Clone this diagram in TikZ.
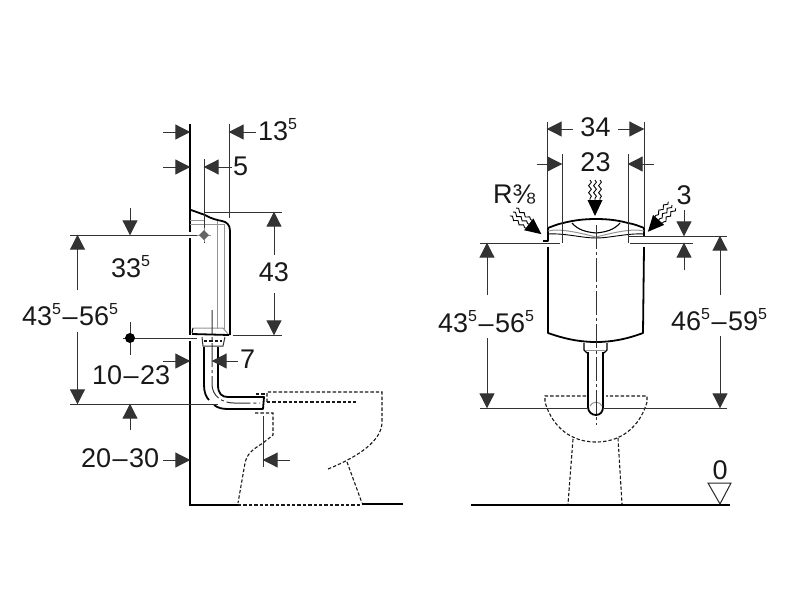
\documentclass[tikz,border=0pt]{standalone}
\usepackage{fontspec}
\setmainfont{Liberation Sans}
\usetikzlibrary{arrows.meta,decorations.pathmorphing}
\newcommand{\supfive}{\raisebox{0.40em}{\fontsize{16}{16}\selectfont 5}}
\newcommand{\dsh}{\kern1.5pt–\kern1.5pt}
\definecolor{dimc}{gray}{0.2}
\definecolor{lightg}{gray}{0.58}
\tikzset{
  x=1pt,y=-1pt,
  lbl/.style={font=\fontsize{27}{27}\selectfont,inner sep=0pt,text=black!90},
  dimline/.style={draw=dimc,line width=1pt},
  dimarrow/.style={dimline,-{Triangle[length=15pt,width=15pt]},shorten >=-0.3pt},
  body/.style={draw=black,line width=1.8pt,line join=round},
  heavy/.style={draw=black,line width=2.6pt},
  thing/.style={draw=lightg,line width=1pt},
  hidden/.style={draw=black!90,line width=1.1pt,dash pattern=on 3.4pt off 2pt},
  centre/.style={draw=dimc,line width=1pt,dash pattern=on 24pt off 3pt on 3pt off 3pt},
  squiggle/.pic={
    \foreach \o in {-5,0,5}{
      \draw[black,line width=0.9pt,decorate,decoration={snake,amplitude=1.4pt,segment length=7pt}] (\o,0) -- (\o,20);
    }
    \fill[black] (-7.5,20) -- (7.5,20) -- (0,36) -- cycle;
  }
}
\begin{document}
\begin{tikzpicture}
\useasboundingbox[fill=white] (0,0) rectangle (800,600);

% ---- named points: left view
\coordinate (wallTop) at (190,124);
\coordinate (wallFoot) at (190,505);
\coordinate (floorEndL) at (403,504);
\coordinate (a135L) at (163,132);   \coordinate (a135Lt) at (190,132);
\coordinate (a135R) at (256,132);   \coordinate (a135Rt) at (229,132);
\coordinate (a5L) at (163,167);     \coordinate (a5Lt) at (190,167);
\coordinate (a5R) at (232,167);     \coordinate (a5Rt) at (204,167);
\coordinate (ext229a) at (229,124); \coordinate (ext229b) at (229,218);
\coordinate (ext204a) at (204,159); \coordinate (ext204b) at (204,243);
\coordinate (top43a) at (204,212);  \coordinate (top43b) at (282,212);
\coordinate (bot43a) at (233,335);  \coordinate (bot43b) at (282,335);
\coordinate (a43ts) at (274,255);   \coordinate (a43tt) at (274,212);
\coordinate (a43bs) at (274,293);   \coordinate (a43bt) at (274,335);
\coordinate (line235a) at (70,235); \coordinate (line235b) at (197,235);
\coordinate (a33s) at (130,208);    \coordinate (a33t) at (130,235);
\coordinate (dotV1) at (130,322);   \coordinate (dotV2) at (130,355);
\coordinate (dot) at (130,338);
\coordinate (dotH1) at (123,338);   \coordinate (dotH2) at (197,338);
\coordinate (a43Ls) at (77.5,290);  \coordinate (a43Lt) at (77.5,235);
\coordinate (a56Ls) at (77.5,332);  \coordinate (a56Lt) at (77.5,404);
\coordinate (line404a) at (70,404); \coordinate (line404b) at (218,404);
\coordinate (a130s) at (130,430);   \coordinate (a130t) at (130,404);
\coordinate (a1023s) at (163,361);  \coordinate (a1023t) at (190,361);
\coordinate (a7s) at (238,361);     \coordinate (a7t) at (212,361);
\coordinate (a2030s) at (163,460);  \coordinate (a2030t) at (190,460);
\coordinate (a263s) at (290,460);   \coordinate (a263t) at (263,460);
\coordinate (ext263a) at (263,416); \coordinate (ext263b) at (263,467);
\coordinate (cross) at (204,235);

% ---- left view: wall and floor
\draw[heavy] (wallTop) -- (190,232);
\draw[heavy] (190,238) -- (190,335);
\draw[heavy] (190,341) -- (wallFoot) -- (238,505);
\draw[heavy] (362,504) -- (floorEndL);

% ---- left view: cistern
\draw[thing] (190,220) -- (205,220);
\draw[thing] (190,224) -- (224,224);
\draw[thing] (217,221) -- (217,329);
\draw[thing] (224,224) -- (224,329);
\draw[thing] (193,328) -- (223,328) -- (228,334);
\draw[body] (191,210) -- (205,215) .. controls (212,219) and (217,220) .. (222,221) .. controls (227,222) and (230,225) .. (230,231) -- (230,335);
\draw[body] (192,334) -- (229,335);
\draw[line width=1pt] (192,333) -- (193,328);

% ---- left view: fitting and pipe
\draw[draw=dimc,line width=1pt] (202,337) -- (203,346) -- (223,346) -- (225,337);
\draw[hidden] (204,341) -- (222,341);
\draw[body] (204,347) -- (204,385) .. controls (204,392) and (206,397) .. (209,400);
\draw[body] (214,405) .. controls (218,408) and (222,409) .. (228,409) -- (263,409) -- (264,397) -- (228,397) .. controls (222,397) and (218,394) .. (218,385) -- (218,347);
\draw[centre] (212,310) -- (212,384) .. controls (212,396) and (222,403) .. (234,403) -- (260,403);

% ---- left view: bowl
\draw[hidden] (256,394) -- (265,394);
\draw[hidden] (267,402) -- (267,392) -- (382,392) -- (382,422) .. controls (382,440) and (360,456) .. (328,469);
\draw[hidden] (267,402) -- (356,402);
\draw[hidden] (347,462) -- (362,503);
\draw[hidden] (255,413) -- (273,413) -- (273,435) -- (263,443) .. controls (250,451) and (247,455) .. (245,463) -- (238,503);
\draw[hidden] (238,505) -- (362,505);

% ---- left view: dimension lines
\draw[dimline] (ext229a) -- (ext229b);
\draw[dimline] (ext204a) -- (ext204b);
\draw[dimline] (top43a) -- (top43b);
\draw[dimline] (bot43a) -- (bot43b);
\draw[dimline] (line235a) -- (line235b);
\draw[dimline] (dotV1) -- (dotV2);
\draw[dimline] (dotH1) -- (dotH2);
\draw[dimline] (line404a) -- (line404b);
\draw[dimline] (ext263a) -- (ext263b);
\fill[black] (dot) circle (5);
\foreach \s/\t in {a135L/a135Lt,a135R/a135Rt,a5L/a5Lt,a5R/a5Rt,a43ts/a43tt,a43bs/a43bt,a33s/a33t,a43Ls/a43Lt,a56Ls/a56Lt,a130s/a130t,a1023s/a1023t,a7s/a7t,a2030s/a2030t,a263s/a263t}{
  \draw[dimarrow] (\s) -- (\t);
}
\draw[draw=lightg,line width=1pt] (197,235) -- (211,235) (204,228) -- (204,242);
\fill[black!60] (204,230) -- (209,235) -- (204,240) -- (199,235) -- cycle;

% ---- left view: labels
\node[lbl,anchor=west] (t135) at (258,130) {13\supfive};
\node[lbl,anchor=west] (t5) at (233,166) {5};
\node[lbl] (t43) at (274,272) {43};
\node[lbl,anchor=west] (t335) at (111,267) {33\supfive};
\node[lbl,anchor=west] (t4356) at (22,315) {43\supfive\dsh56\supfive};
\node[lbl,anchor=west] (t1023) at (92,375) {10\dsh23};
\node[lbl,anchor=west] (t7) at (240,359) {7};
\node[lbl,anchor=west] (t2030) at (81,458) {20\dsh30};

% ---- named points: right view
\coordinate (e547a) at (547,122); \coordinate (e547b) at (547,228);
\coordinate (e644a) at (644,122); \coordinate (e644b) at (644,228);
\coordinate (e562a) at (562,154); \coordinate (e562b) at (562,243);
\coordinate (e628a) at (628,154); \coordinate (e628b) at (628,243);
\coordinate (a34Ls) at (573,129); \coordinate (a34Lt) at (547,129);
\coordinate (a34Rs) at (618,129); \coordinate (a34Rt) at (644,129);
\coordinate (a23Ls) at (537,164); \coordinate (a23Lt) at (562,164);
\coordinate (a23Rs) at (654,164); \coordinate (a23Rt) at (628,164);
\coordinate (a3s) at (684,210);   \coordinate (a3t) at (684,236);
\coordinate (a3bs) at (684,270);  \coordinate (a3bt) at (684,243);
\coordinate (l236a) at (628,236); \coordinate (l236b) at (727,236);
\coordinate (l243a) at (480,243); \coordinate (l243b) at (560,243);
\coordinate (l243c) at (630,243); \coordinate (l243d) at (693,243);
\coordinate (b408a) at (480,408); \coordinate (b408b) at (588,408);
\coordinate (b408c) at (604,408); \coordinate (b408d) at (727,408);
\coordinate (a487s) at (487,295); \coordinate (a487t) at (487,243);
\coordinate (a487bs) at (487,338);\coordinate (a487bt) at (487,408);
\coordinate (a720s) at (720,295); \coordinate (a720t) at (720,236);
\coordinate (a720bs) at (720,336);\coordinate (a720bt) at (720,408);
\coordinate (rc1) at (596,225);   \coordinate (rc2) at (596,425);

% ---- right view: cistern
\draw[body] (548,237) -- (548,228) .. controls (553,226) and (558,224) .. (563,223) .. controls (575,220) and (585,219) .. (596,219) .. controls (607,219) and (617,220) .. (628,223) .. controls (634,224) and (639,226) .. (644,228) -- (644,236);
\draw[body,line width=1.2pt] (548,237) -- (548,241) -- (543,241);
\draw[body] (548,247) -- (548,333) .. controls (565,339) and (580,342) .. (596,342) .. controls (612,342) and (627,339) .. (643,333) -- (644,247);
\draw[line width=1.1pt] (572,223) .. controls (578,230) and (586,232) .. (596,233) .. controls (606,232) and (614,230) .. (620,223);
\draw[thing] (548,231) .. controls (560,228) and (580,233) .. (596,237) .. controls (612,233) and (632,228) .. (644,231);
\draw[line width=0.9pt] (548,234) .. controls (565,233) and (582,238) .. (596,238) .. controls (610,238) and (628,233) .. (644,234);

% ---- right view: fitting and pipe
\draw[draw=black,line width=1.1pt] (584,343) -- (584,350) -- (587,353) (607,343) -- (607,350) -- (604,353);
\draw[thing] (585,350) -- (606,350);
\draw[body] (588,352) -- (588,407) .. controls (588,412) and (592,415) .. (596,415) .. controls (600,415) and (603,412) .. (603,407) -- (603,352);
\draw[thing] (590,406) .. controls (592,401) and (600,401) .. (602,406);

% ---- right view: bowl
\draw[hidden] (586,396) -- (545,396) -- (545,402) .. controls (550,420) and (565,442) .. (596,442) .. controls (627,442) and (642,420) .. (647,402) -- (647,396) -- (606,396);
\draw[hidden] (573,439) -- (568,504);
\draw[hidden] (618,438) -- (622,504);

% ---- right view: floor and marker
\draw[heavy] (471,505) -- (730,505);
\draw[draw=black!85,line width=1pt] (708,483) -- (731,483) -- (720,504) -- cycle;

% ---- right view: dimension lines
\draw[centre] (rc1) -- (rc2);
\draw[dimline] (e547a) -- (e547b);
\draw[dimline] (e644a) -- (e644b);
\draw[dimline] (e562a) -- (e562b);
\draw[dimline] (e628a) -- (e628b);
\draw[dimline] (l236a) -- (l236b);
\draw[dimline] (l243a) -- (l243b);
\draw[dimline] (l243c) -- (l243d);
\draw[dimline] (b408a) -- (b408b);
\draw[dimline] (b408c) -- (b408d);
\foreach \s/\t in {a34Ls/a34Lt,a34Rs/a34Rt,a23Ls/a23Lt,a23Rs/a23Rt,a3s/a3t,a3bs/a3bt,a487s/a487t,a487bs/a487bt,a720s/a720t,a720bs/a720bt}{
  \draw[dimarrow] (\s) -- (\t);
}
\pic at (595,180) {squiggle};
\pic[rotate=52] at (513,212) {squiggle};
\pic[rotate=-42] at (672,205) {squiggle};

% ---- right view: labels
\node[lbl] (t34) at (595.5,127) {34};
\node[lbl] (t23) at (595.5,162) {23};
\node[lbl,anchor=west] (tR) at (493,194) {R⅜};
\node[lbl] (t3) at (684,195) {3};
\node[lbl,anchor=west] (t4356r) at (438,322) {43\supfive\dsh56\supfive};
\node[lbl,anchor=west] (t4659) at (671,320) {46\supfive\dsh59\supfive};
\node[lbl] (t0) at (720,470) {0};
\end{tikzpicture}
\end{document}
